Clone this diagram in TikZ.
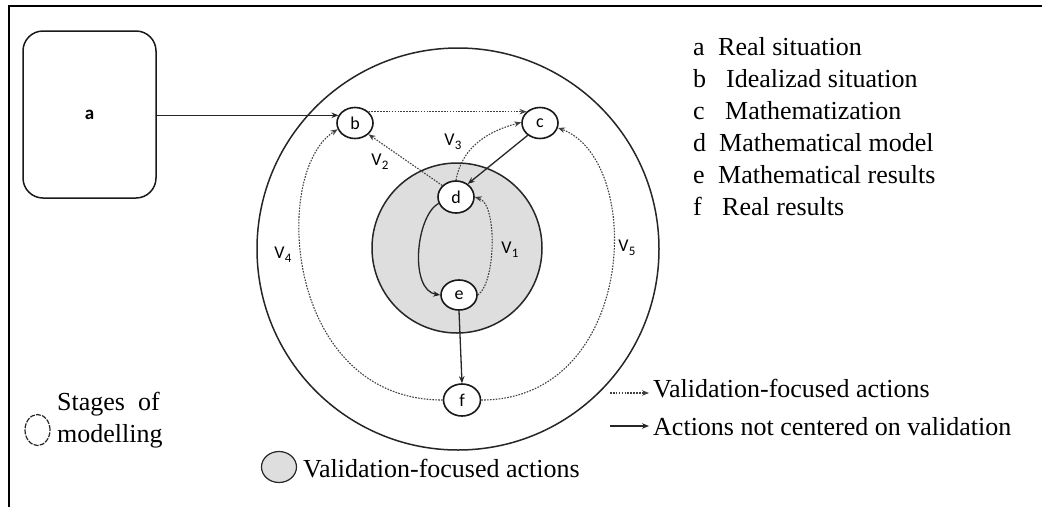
\documentclass[tikz,border=0pt]{standalone}
\usepackage{fontspec}
\setmainfont{Liberation Serif}
\newfontfamily\lab{Carlito}
\usetikzlibrary{arrows.meta,shapes.geometric}
\newcommand\Vs[1]{V\kern0.3pt\raisebox{-0.45ex}{\fontsize{13}{13}\selectfont #1}}
\begin{document}
\begin{tikzpicture}[x=1pt,y=-1pt,
  stage/.style={ellipse, draw=black!90, line width=1.6pt, fill=white, inner sep=0pt,
    minimum width=36pt, minimum height=31pt, font=\lab\fontsize{18}{18}\selectfont},
  act/.style={draw=black!85, line width=1.3pt, -{Stealth[length=7pt,width=5.5pt]}},
  val/.style={draw=black!75, line width=1.1pt, dash pattern=on 1.6pt off 1.3pt,
    -{Stealth[length=7pt,width=5.5pt]}},
  vl/.style={font=\lab\fontsize{18}{18}\selectfont, inner sep=0pt},
  leg/.style={font=\fontsize{26}{32}\selectfont, inner sep=0pt, anchor=base west},
  ring/.style={draw=black!85, line width=1.5pt},
]
\useasboundingbox (0,0) rectangle (1042,507);
% frame
\draw[line width=1.6pt] (9,507) -- (9,6) -- (1042,6);

% circles
\draw[ring, fill=white] (458,249) circle[radius=201pt];
\draw[ring, fill=black!13] (457,248) circle[radius=85pt];

% real situation box
\node[draw=black!90, line width=1.5pt, rounded corners=20pt, minimum width=133pt,
  minimum height=167pt, inner sep=0pt, font=\lab\bfseries\fontsize{19}{19}\selectfont]
  (a) at (89.5,114.5) {a};

% stage nodes
\node[stage] (b) at (355,123) {b};
\node[stage] (c) at (540,123) {c};
\node[stage, minimum height=32pt] (d) at (456,197) {d};
\node[stage, minimum height=30pt] (e) at (459,295) {e};
\node[stage, minimum width=37pt, minimum height=32pt] (f) at (462,400) {f};

% connectors not centred on validation
\draw[act] (a.east |- b.155) -- (b.155);
\draw[act] (c.225) -- (d.48);
\draw[act] (d.200) .. controls +(-23,13) and +(-31,-5) .. (e.180);
\draw[act] (e.south) -- (f.north);

% validation-focused connectors
\draw[val] (b.40) -- (c.140);
\draw[val] (d.140) -- (b.-40);
\draw[val] (d.north) to[out=80,in=195] (c.178);
\draw[val] (e.0) .. controls +(18,-12) and +(23,7) .. (d.0);
\draw[val] (f.west) .. controls +(-158,0) and +(-67,42) .. (b.200);
\draw[val] (f.east) .. controls +(155,0) and +(88,33) .. (c.-15);

% V labels
\node[vl] (v1) at (510,250) {\Vs{1}};
\node[vl] (v2) at (380,162) {\Vs{2}};
\node[vl] (v3) at (453,142) {\Vs{3}};
\node[vl] (v4) at (283,255) {\Vs{4}};
\node[vl] (v5) at (627,248) {\Vs{5}};

% key list
\node[leg] (ka) at (693,55) {a};  \node[leg] (ta) at (718,55) {Real situation};
\node[leg] (kb) at (693,87) {b};  \node[leg] (tb) at (726,87) {Idealizad situation};
\node[leg] (kc) at (693,119) {c}; \node[leg] (tc) at (725,119) {Mathematization};
\node[leg] (kd) at (693,151) {d}; \node[leg] (td) at (719,151) {Mathematical model};
\node[leg] (ke) at (693,183) {e}; \node[leg] (te) at (718,183) {Mathematical results};
\node[leg] (kf) at (693,215) {f}; \node[leg] (tf) at (722,215) {Real results};

% arrow legend
\coordinate (l1s) at (610,393); \coordinate (l1e) at (649,393);
\coordinate (l2s) at (610,426); \coordinate (l2e) at (649,426);
\draw[val] (l1s) -- (l1e);
\draw[act] (l2s) -- (l2e);
\node[leg] (lt1) at (653,397) {Validation-focused actions};
\node[leg] (lt2) at (653,435) {Actions not centered on validation};

% shape legend
\node[ellipse, draw=black!85, line width=1.2pt, dash pattern=on 5pt off 1.2pt,
  minimum width=25pt, minimum height=31pt, inner sep=0pt] (ls) at (37.5,430) {};
\node[leg, align=left] (lst) at (57,442) {Stages\hspace{13pt}of\\modelling};
\node[ellipse, draw=black!85, line width=1.2pt, fill=black!13,
  minimum width=35pt, minimum height=31pt, inner sep=0pt] (lg) at (279,467) {};
\node[leg] (lgt) at (303,477) {Validation-focused actions};
\end{tikzpicture}
\end{document}
